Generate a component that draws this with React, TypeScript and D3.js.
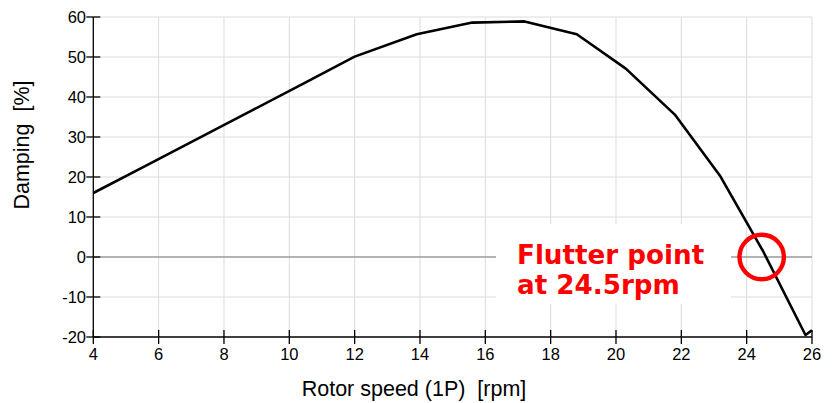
import React from 'react';
import * as d3 from 'd3';

const rotorSpeed = [4, 5.6, 7.2, 8.8, 10.4, 12.0, 13.9, 15.6, 17.2, 18.8, 20.3, 21.8, 23.2, 24.5, 25.8, 26.0];
const damping = [16, 22.8, 29.6, 36.4, 43.2, 50.1, 55.7, 58.6, 58.9, 55.7, 47.1, 35.6, 20.1, 1.5, -19.5, -18.3];
const xTicks = [4, 6, 8, 10, 12, 14, 16, 18, 20, 22, 24, 26];
const yTicks = [-20, -10, 0, 10, 20, 30, 40, 50, 60];
const flutterSpeed = 24.46;
const noteLines = ['Flutter point', 'at 24.5rpm'];

const W = 832;
const H = 403;

const App = () => {
  const x = d3.scaleLinear().domain([4, 26]).range([93.3, 812]);
  const y = d3.scaleLinear().domain([-20, 60]).range([337, 17]);

  const pts = rotorSpeed.map((s, i) => [s, damping[i]] as [number, number]);
  const line = d3
    .line<[number, number]>()
    .x((d) => x(d[0]))
    .y((d) => y(d[1]));

  const axisFont = '"Liberation Sans", Arial, sans-serif';

  return (
    <svg
      width={W}
      height={H}
      style={{ position: 'absolute', left: 0, top: 0, background: '#fff' }}
    >
      {/* grid */}
      <g stroke="#dcdcdc" strokeWidth={1}>
        {xTicks.slice(1).map((t) => (
          <line key={'gx' + t} x1={x(t)} x2={x(t)} y1={y(60)} y2={y(-20)} />
        ))}
        {yTicks
          .filter((t) => t !== -20 && t !== 0)
          .map((t) => (
            <line key={'gy' + t} x1={x(4)} x2={x(26)} y1={y(t)} y2={y(t)} />
          ))}
      </g>
      <line x1={x(4)} x2={x(26)} y1={y(0)} y2={y(0)} stroke="#9a9a9a" strokeWidth={1.5} />

      {/* note background */}
      <rect x={496} y={224} width={235} height={80} fill="#fff" />

      {/* axes */}
      <g stroke="#000" strokeWidth={1.3}>
        <line x1={x(4)} x2={x(4)} y1={y(60)} y2={y(-20)} />
        <line x1={x(4)} x2={x(26)} y1={y(-20)} y2={y(-20)} />
        {yTicks.map((t) => (
          <line key={'ty' + t} x1={x(4) - 7} x2={x(4) + 7} y1={y(t)} y2={y(t)} />
        ))}
        {xTicks.map((t) => (
          <line key={'tx' + t} x1={x(t)} x2={x(t)} y1={y(-20) - 7} y2={y(-20) + 7} />
        ))}
      </g>
      <g fontFamily={axisFont} fontSize={16.5} fill="#000">
        {yTicks.map((t) => (
          <text key={'ly' + t} x={86} y={y(t)} dy="0.35em" textAnchor="end">
            {t}
          </text>
        ))}
        {xTicks.map((t) => (
          <text key={'lx' + t} x={x(t)} y={360} textAnchor="middle">
            {t}
          </text>
        ))}
      </g>
      <text
        x={301.7}
        y={395.5}
        fontFamily={axisFont}
        fontSize={21.5}
        style={{ whiteSpace: 'pre' }}
      >
        {'Rotor speed (1P)  [rpm]'}
      </text>
      <text
        transform="translate(29.3,145) rotate(-90)"
        textAnchor="middle"
        fontFamily={axisFont}
        fontSize={21.5}
        style={{ whiteSpace: 'pre' }}
      >
        {'Damping  [%]'}
      </text>

      {/* curve */}
      <path d={line(pts) || ''} fill="none" stroke="#000" strokeWidth={2.6} strokeLinejoin="round" />

      {/* annotation */}
      <circle cx={x(flutterSpeed)} cy={y(0)} r={22.2} fill="none" stroke="#ff0000" strokeWidth={4.4} />
      <g fontFamily='"DejaVu Sans", Verdana, sans-serif' fontWeight="bold" fontSize={26.2} fill="#ff0000">
        <text x={517} y={263.5}>{noteLines[0]}</text>
        <text x={517} y={293.5}>{noteLines[1]}</text>
      </g>
    </svg>
  );
};

export default App;
